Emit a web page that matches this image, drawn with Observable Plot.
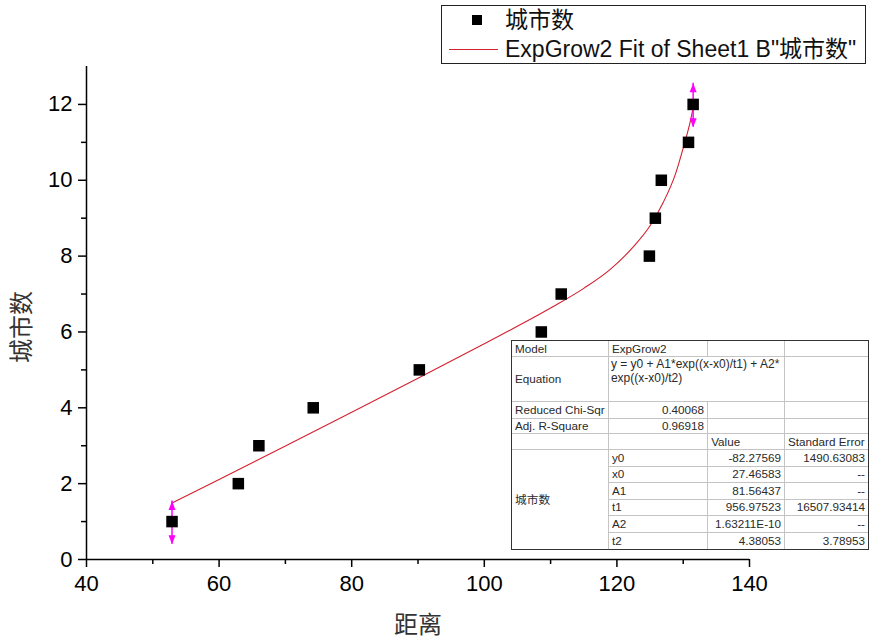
<!DOCTYPE html>
<html>
<head>
<meta charset="utf-8">
<script src="https://cdn.jsdelivr.net/npm/d3@7"></script>
<script src="https://cdn.jsdelivr.net/npm/@observablehq/plot@0.6"></script>
<style>
  html, body { margin: 0; padding: 0; background: #fff; }
  #wrap { position: relative; width: 869px; height: 643px; overflow: hidden; font-family: "Liberation Sans", Arial, "Noto Sans CJK SC", sans-serif; }
  #legend { position: absolute; left: 441px; top: 5px; width: 423px; height: 57px; border: 1px solid #222; background: #fff; }
  #legend .sq { position: absolute; left: 30px; top: 9px; width: 10px; height: 10px; background: #000; }
  #legend .ln { position: absolute; left: 7px; top: 43px; width: 49px; height: 0; border-top: 1px solid #d42030; }
  #legend .t { position: absolute; left: 63px; font-size: 23px; line-height: 26px; color: #111; white-space: nowrap; }
  table.fit { position: absolute; left: 511px; top: 340px; border-collapse: separate; border-spacing: 0; border: 1px solid #333; background: #fff; table-layout: fixed; font-size: 11.7px; color: #2a2a2a; }
  table.fit td { border-right: 1px solid #c4c4c4; border-bottom: 1px solid #c4c4c4; padding: 0 3px; white-space: nowrap; overflow: hidden; box-sizing: border-box; line-height: 12px; }
  table.fit td.last { border-right: none; }
  table.fit tr:last-child td { border-bottom: none; }
  table.fit td.nb { border-bottom: none; }
  table.fit td.r { text-align: right; }
  table.fit td.eq { vertical-align: top; padding: 1px 0 0 2px; white-space: nowrap; overflow: visible; font-size: 12px; line-height: 13.5px; }
</style>
</head>
<body>
<div id="wrap">
  <div id="chart"></div>
  <div id="legend">
    <div class="sq"></div>
    <div class="t" id="lg1" style="top:1px"></div>
    <div class="ln"></div>
    <div class="t" id="lg2" style="top:30px"></div>
  </div>
  <table class="fit" id="fit"></table>
</div>
<script>
// ---- data ----
const distance = [52.9, 62.9, 66.0, 74.2, 90.2, 108.6, 111.6, 124.9, 125.8, 126.7, 130.8, 131.5];
const cities   = [1, 2, 3, 4, 5, 6, 7, 8, 9, 10, 11, 12];
const fitX = [52.9, 60, 70, 80, 90, 100, 110, 115, 119, 122.5, 125, 127, 128.8, 130, 131, 131.5];
const fitY = [1.49, 2.11, 2.99, 3.88, 4.78, 5.69, 6.63, 7.15, 7.65, 8.25, 8.80, 9.42, 10.15, 10.85, 11.5, 11.9];
const arrowX    = [52.9, 131.5];
const arrowLow  = [0.40, 11.40];
const arrowHigh = [1.54, 12.56];
const xTicks = [40, 60, 80, 100, 120, 140];
const xMinor = [50, 70, 90, 110, 130];
const yTicks = [0, 2, 4, 6, 8, 10, 12];
const yMinor = [1, 3, 5, 7, 9, 11];
const xLabel = "距离";
const yLabel = "城市数";
const legendLabels = ["城市数", "ExpGrow2 Fit of Sheet1 B\"城市数\""];
const modelName = "ExpGrow2";
const equationLines = ["y = y0 + A1*exp((x-x0)/t1) + A2*", "exp((x-x0)/t2)"];
const chiSqr = "0.40068";
const adjR2 = "0.96918";
const paramNames  = ["y0", "x0", "A1", "t1", "A2", "t2"];
const paramValues = ["-82.27569", "27.46583", "81.56437", "956.97523", "1.63211E-10", "4.38053"];
const paramErrors = ["1490.63083", "--", "--", "16507.93414", "--", "3.78953"];

const FONT = '"Liberation Sans", Arial, "Noto Sans CJK SC", sans-serif';
const points = distance.map((x, i) => ({x, y: cities[i]}));
const fit = fitX.map((x, i) => ({x, y: fitY[i]}));
const arrows = arrowX.map((x, i) => ({x, lo: arrowLow[i], hi: arrowHigh[i]}));
const head = {draw(ctx) { ctx.moveTo(0, 0); ctx.lineTo(-3.5, 9); ctx.lineTo(3.5, 9); ctx.closePath(); }};

const chart = Plot.plot({
  width: 869, height: 643,
  marginLeft: 86, marginRight: 120, marginTop: 66, marginBottom: 84,
  x: {domain: [40, 140]},
  y: {domain: [0, 13]},
  style: {fontFamily: FONT, background: "white", color: "black"},
  marks: [
    Plot.axisX(xTicks, {tickSize: 8, tickPadding: 8, fontSize: 22, strokeWidth: 1.5, label: null}),
    Plot.axisX(xMinor, {tickSize: 5, strokeWidth: 1.5, tickFormat: () => "", label: null}),
    Plot.axisY(yTicks, {tickSize: 8, tickPadding: 6, fontSize: 22, strokeWidth: 1.5, label: null}),
    Plot.axisY(yMinor, {tickSize: 5, strokeWidth: 1.5, tickFormat: () => "", label: null}),
    Plot.ruleY([0], {stroke: "black", strokeWidth: 1.5}),
    Plot.ruleX([40], {stroke: "black", strokeWidth: 1.5}),
    Plot.line(fit, {x: "x", y: "y", stroke: "#d42030", strokeWidth: 1.1, curve: "monotone-x"}),
    Plot.ruleX(arrows, {x: "x", y1: "lo", y2: "hi", stroke: "#ff00ff", strokeWidth: 1.5}),
    Plot.dot(arrows, {x: "x", y: "hi", symbol: head, fill: "#ff00ff", stroke: "none"}),
    Plot.dot(arrows, {x: "x", y: "lo", symbol: head, rotate: 180, fill: "#ff00ff", stroke: "none"}),
    Plot.dot(points, {x: "x", y: "y", symbol: "square", r: 6.5, fill: "black", stroke: "none"}),
    Plot.text([xLabel], {text: d => d, frameAnchor: "bottom", dy: 73, fontSize: 24, fill: "#333"}),
    Plot.text([yLabel], {text: d => d, frameAnchor: "left", dx: -64, dy: 50, rotate: -90, fontSize: 24, fill: "#333"})
  ]
});
document.getElementById("chart").appendChild(chart);

document.getElementById("lg1").textContent = legendLabels[0];
document.getElementById("lg2").textContent = legendLabels[1];

// ---- fit results table ----
const tbl = document.getElementById("fit");
const colW = [97, 100, 77, 83];
const cg = document.createElement("colgroup");
colW.forEach(w => { const c = document.createElement("col"); c.style.width = w + "px"; cg.appendChild(c); });
tbl.appendChild(cg);
function row(h, cells) {
  const tr = document.createElement("tr");
  tr.style.height = h + "px";
  cells.forEach(c => {
    const td = document.createElement("td");
    if (c.html != null) td.innerHTML = c.html; else td.textContent = c.t || "";
    if (c.cls) td.className = c.cls;
    if (c.colspan) td.colSpan = c.colspan;
    if (c.rowspan) td.rowSpan = c.rowspan;
    tr.appendChild(td);
  });
  tbl.appendChild(tr);
}
row(16, [{t: "Model"}, {t: modelName}, {t: ""}, {t: "", cls: "last"}]);
row(45, [{t: "Equation"}, {html: equationLines.join("<br>"), cls: "eq", colspan: 2}, {t: "", cls: "last"}]);
row(17, [{t: "Reduced Chi-Sqr"}, {t: chiSqr, cls: "r"}, {t: ""}, {t: "", cls: "last"}]);
row(15, [{t: "Adj. R-Square"}, {t: adjR2, cls: "r"}, {t: ""}, {t: "", cls: "last"}]);
row(16, [{t: ""}, {t: ""}, {t: "Value"}, {t: "Standard Error", cls: "last"}]);
paramNames.forEach((p, i) => {
  const cells = [];
  if (i === 0) cells.push({t: yLabel, rowspan: paramNames.length, cls: "nb"});
  cells.push({t: p}, {t: paramValues[i], cls: "r"}, {t: paramErrors[i], cls: "r last"});
  row(16.5, cells);
});
</script>
</body>
</html>
